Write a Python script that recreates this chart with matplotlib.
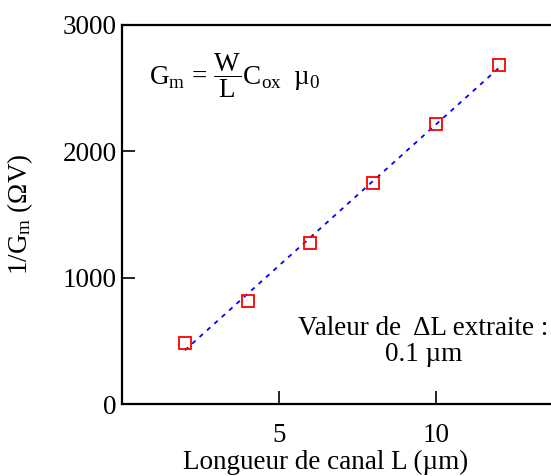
import matplotlib
matplotlib.use("Agg")
import matplotlib.pyplot as plt
import matplotlib.transforms as mtransforms

plt.rcParams['font.family'] = ['Liberation Serif', 'DejaVu Serif']
plt.rcParams['mathtext.fontset'] = 'custom'
plt.rcParams['mathtext.rm'] = 'Liberation Serif'
plt.rcParams['mathtext.it'] = 'Liberation Serif:italic'

# data
L_um = [2, 4, 6, 8, 10, 12]
inv_gm = [484, 812, 1274, 1746, 2220, 2680]
fit_L = [2, 12]
fit_inv_gm = [425, 2660]
x_ticks = [5, 10]
y_ticks = [0, 1000, 2000, 3000]

W, H = 551, 476
fig = plt.figure(figsize=(W / 100, H / 100), dpi=100)
left, right, top, bottom = 122, 593, 25, 404
ax = fig.add_axes([left / W, (H - bottom) / H, (right - left) / W, (bottom - top) / H])

ax.plot(fit_L, fit_inv_gm, color='#0000ff', lw=1.3, ls=(0, (2.5, 3)))
ax.plot(L_um, inv_gm, ls='none', marker='s', ms=8, mfc='none', mec='#ff0000', mew=1.3)

ax.set_xlim(0, 15)
ax.set_ylim(0, 3000)
ax.set_xticks(x_ticks)
ax.set_yticks(y_ticks)
ax.tick_params(direction='in', length=9.5, width=1.2, labelsize=19.5)
ax.tick_params(axis='x', pad=14)
ax.tick_params(axis='y', pad=4)
for s in ax.spines.values():
    s.set_linewidth(1.6)

trans = mtransforms.blended_transform_factory(ax.transData, ax.transAxes)
ax.text(6.5, -0.155, 'Longueur de canal L (\u00b5m)', transform=trans,
        ha='center', va='center', fontsize=19.5, clip_on=False)
ax.set_ylabel(r'$\mathrm{1/G_m\ (\Omega V)}$', fontsize=19.5, labelpad=20)

ax.text(0.85, 2600, r'$\mathrm{G_m\,=\,\dfrac{W}{L}C_{ox}\ \ \mu_0}$'.replace(r'\mu', '\u00b5'),
        fontsize=19.5, ha='left', va='center')
ax.text(9.6, 495, 'Valeur de  \u0394L extraite :\n0.1 \u00b5m', fontsize=19.5,
        ha='center', va='center', linespacing=1.1)

fig.savefig('out.png', dpi=100)
